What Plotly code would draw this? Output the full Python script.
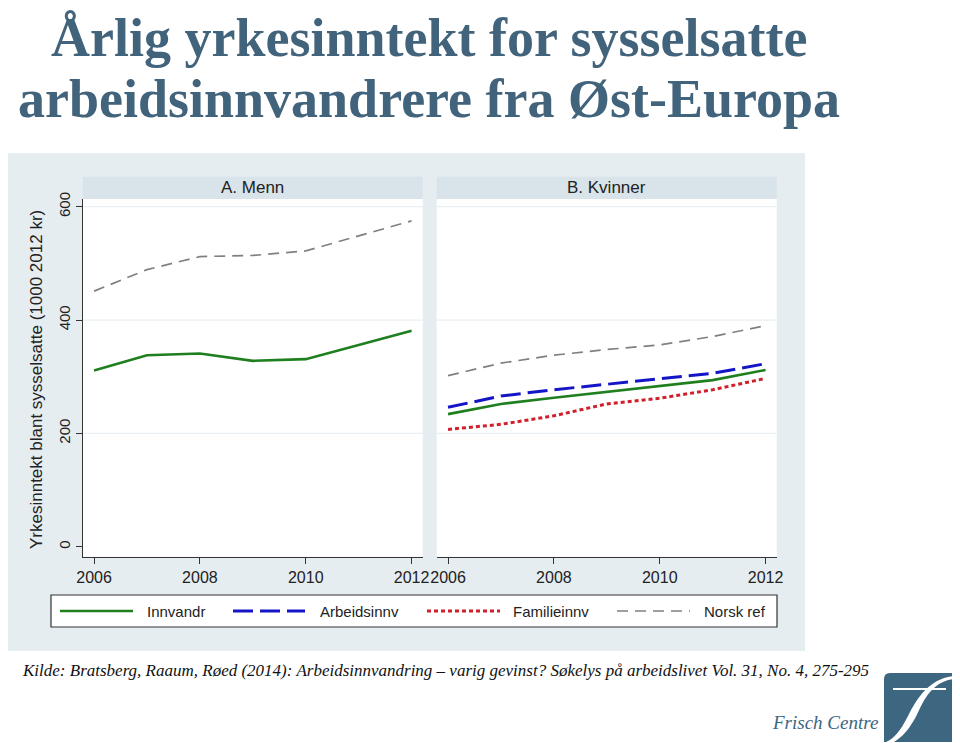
import plotly.graph_objects as go

W, H = 960, 743
OFF = 8  # page body margin in the browser

# ---------------- data ----------------
years = [2006, 2007, 2008, 2009, 2010, 2011, 2012]

menn_innvandr = [311, 338, 341, 328, 331, 356, 381]
menn_norsk = [451, 489, 512, 514, 522, 548, 575]

kv_innvandr = [234, 252, 263, 273, 283, 294, 312]
kv_arbeid = [246, 266, 277, 287, 296, 306, 323]
kv_familie = [207, 216, 231, 252, 262, 277, 297]
kv_norsk = [302, 324, 338, 348, 356, 371, 390]

series_names = ["Innvandr", "Arbeidsinnv", "Familieinnv", "Norsk ref"]
panel_titles = ["A. Menn", "B. Kvinner"]
x_ticks = [2006, 2008, 2010, 2012]
y_ticks = [0, 200, 400, 600]
grid_vals = [200, 400, 600]

title_l1 = "Årlig yrkesinntekt for sysselsatte"
title_l2 = "arbeidsinnvandrere fra Øst-Europa"
y_title = "Yrkesinntekt blant sysselsatte (1000 2012 kr)"
source_text = ("Kilde: Bratsberg, Raaum, Røed (2014): Arbeidsinnvandring – varig gevinst? "
               "Søkelys på arbeidslivet Vol. 31, No. 4, 275-295")
logo_text = "Frisch Centre"

# ---------------- styles ----------------
GREEN = "#1f7f1f"
BLUE = "#1515c8"
RED = "#d0202c"
GRAY = "#808080"
TITLE_C = "#41637b"
PANEL_BG = "#e6edf1"
STRIP_BG = "#d8e3ea"
styles = {
    "Innvandr": dict(color=GREEN, width=2.6, dash="solid"),
    "Arbeidsinnv": dict(color=BLUE, width=3, dash="20px,7px"),
    "Familieinnv": dict(color=RED, width=3, dash="4px,3px"),
    "Norsk ref": dict(color=GRAY, width=1.7, dash="11px,7px"),
}


def px(x):
    return (x - OFF) / W


def py(y):
    return 1 - (y - OFF) / H


# plot-area geometry (viewport pixels)
L1, R1 = 82.7, 422.7
L2, R2 = 436.7, 776.7
TOP, BOT = 199.0, 556.7
STRIP_TOP = 176.7

fig = go.Figure()

panels = [
    ("x", "y", [("Innvandr", menn_innvandr), ("Norsk ref", menn_norsk)]),
    ("x2", "y2", [("Innvandr", kv_innvandr), ("Arbeidsinnv", kv_arbeid),
                  ("Familieinnv", kv_familie), ("Norsk ref", kv_norsk)]),
]
for xa, ya, lines in panels:
    for name, vals in lines:
        fig.add_trace(go.Scatter(
            x=years, y=vals, mode="lines", name=name, xaxis=xa, yaxis=ya,
            line=styles[name], showlegend=False, hoverinfo="skip"))

xrange = [2005.786, 2012.21]
yrange = [-17.6, 613.6]
tickfont = dict(family="Liberation Sans, Arial", size=16, color="#222")

axis_common = dict(range=xrange, tickvals=x_ticks, ticks="outside", ticklen=6,
                   tickwidth=1.3, tickcolor="#333", showline=True, linecolor="#333",
                   linewidth=1.4, showgrid=False, zeroline=False, tickfont=tickfont,
                   automargin=False)

fig.update_layout(
    width=W, height=H, autosize=False,
    margin=dict(l=0, r=0, t=0, b=0, pad=0),
    paper_bgcolor="white", plot_bgcolor="white",
    showlegend=False,
    xaxis=dict(domain=[px(L1), px(R1)], anchor="y", **axis_common),
    xaxis2=dict(domain=[px(L2), px(R2)], anchor="y2", **axis_common),
    yaxis=dict(domain=[py(BOT), py(TOP)], anchor="x", range=yrange, tickvals=y_ticks,
               ticks="outside", ticklen=6, tickwidth=1.3, tickcolor="#333",
               showline=True, linecolor="#333", linewidth=1.4, showgrid=False,
               zeroline=False, tickangle=-90, automargin=False,
               tickfont=dict(family="Liberation Sans, Arial", size=15, color="#222")),
    yaxis2=dict(domain=[py(BOT), py(TOP)], anchor="x2", range=yrange, matches="y",
                showticklabels=False, ticks="", showline=False, showgrid=False,
                zeroline=False, automargin=False),
)

shapes = []
# outer light panel
shapes.append(dict(type="rect", xref="paper", yref="paper", x0=px(5), x1=px(805),
                   y0=py(651), y1=py(153), fillcolor=PANEL_BG, line=dict(width=0),
                   layer="below"))
# white plot areas + strips
for (l, r) in [(L1, R1), (L2, R2)]:
    shapes.append(dict(type="rect", xref="paper", yref="paper", x0=px(l), x1=px(r),
                       y0=py(BOT), y1=py(TOP), fillcolor="white", line=dict(width=0),
                       layer="below"))
    shapes.append(dict(type="rect", xref="paper", yref="paper", x0=px(l), x1=px(r),
                       y0=py(TOP), y1=py(STRIP_TOP), fillcolor=STRIP_BG,
                       line=dict(width=0), layer="below"))
# gridlines
for xd, yd in [("x domain", "y"), ("x2 domain", "y2")]:
    for g in grid_vals:
        shapes.append(dict(type="line", xref=xd, yref=yd, x0=0, x1=1, y0=g, y1=g,
                           line=dict(color="#e9eff2", width=1.2), layer="below"))

# legend box
LEG_T, LEG_B, LEG_L, LEG_R = 595, 627, 51, 777
LEG_Y = 611
shapes.append(dict(type="rect", xref="paper", yref="paper", x0=px(LEG_L), x1=px(LEG_R),
                   y0=py(LEG_B), y1=py(LEG_T), fillcolor="white",
                   line=dict(color="#333", width=1.2)))
legend_pos = [(60, 133, 145), (233, 305, 318), (427, 500, 511), (617, 690, 702)]
annotations = []
for name, (s0, s1, tx) in zip(series_names, legend_pos):
    st = styles[name]
    shapes.append(dict(type="line", xref="paper", yref="paper", x0=px(s0), x1=px(s1),
                       y0=py(LEG_Y), y1=py(LEG_Y),
                       line=dict(color=st["color"], width=st["width"], dash=st["dash"])))
    annotations.append(dict(text=name, xref="paper", yref="paper", x=px(tx), y=py(LEG_Y),
                            xanchor="left", yanchor="middle", showarrow=False,
                            font=dict(family="Liberation Sans, Arial", size=15,
                                      color="#222")))

# strip titles
for t, (l, r) in zip(panel_titles, [(L1, R1), (L2, R2)]):
    annotations.append(dict(text=t, xref="paper", yref="paper", x=px((l + r) / 2),
                            y=py((TOP + STRIP_TOP) / 2), xanchor="center",
                            yanchor="middle", showarrow=False,
                            font=dict(family="Liberation Sans, Arial", size=17,
                                      color="#222")))

# y-axis title
annotations.append(dict(text=y_title, xref="paper", yref="paper", x=px(37), y=py(380),
                        xanchor="center", yanchor="middle", textangle=-90,
                        showarrow=False,
                        font=dict(family="Liberation Sans, Arial", size=17,
                                  color="#222")))

# main title
for txt, yc in [(title_l1, 38), (title_l2, 99)]:
    annotations.append(dict(text="<b>" + txt + "</b>", xref="paper", yref="paper",
                            x=px(429), y=py(yc), xanchor="center", yanchor="middle",
                            showarrow=False,
                            font=dict(family="Liberation Serif, Times New Roman",
                                      size=54, color=TITLE_C)))

# source
annotations.append(dict(text="<i>" + source_text + "</i>", xref="paper", yref="paper",
                        x=px(20), y=py(670), xanchor="left", yanchor="middle",
                        showarrow=False,
                        font=dict(family="Liberation Serif, Times New Roman", size=17,
                                  color="#111")))

# logo
annotations.append(dict(text="<i>" + logo_text + "</i>", xref="paper", yref="paper",
                        x=px(880), y=py(722), xanchor="right", yanchor="middle",
                        showarrow=False,
                        font=dict(family="Liberation Serif, Times New Roman", size=19,
                                  color="#3d6680")))


def pth(cmds):
    out = []
    for cmd in cmds:
        if isinstance(cmd, str):
            out.append(cmd)
        else:
            out.append(f"{px(cmd[0]):.5f},{py(cmd[1]):.5f}")
    return " ".join(out)


logo_box = pth(["M", (890, 673), "L", (957, 673), "L", (957, 742), "L", (884, 742),
                "L", (884, 679), "Q", (884, 673), (890, 673), "Z"])
shapes.append(dict(type="path", xref="paper", yref="paper", path=logo_box,
                   fillcolor="#3d6680", line=dict(width=0)))
swoosh = pth(["M", (953, 676), "C", (930, 679), (918, 696), (908, 716), "C", (900, 732),
              (893, 739), (886, 742), "L", (894, 742), "C", (906, 735), (914, 722),
              (921, 706), "C", (930, 688), (940, 681), (953, 679), "Z"])
shapes.append(dict(type="path", xref="paper", yref="paper", path=swoosh,
                   fillcolor="white", line=dict(width=0)))
shapes.append(dict(type="line", xref="paper", yref="paper", x0=px(893), x1=px(946),
                   y0=py(689), y1=py(689), line=dict(color="white", width=2)))

fig.update_layout(shapes=shapes, annotations=annotations)
fig.write_html("out.html")
